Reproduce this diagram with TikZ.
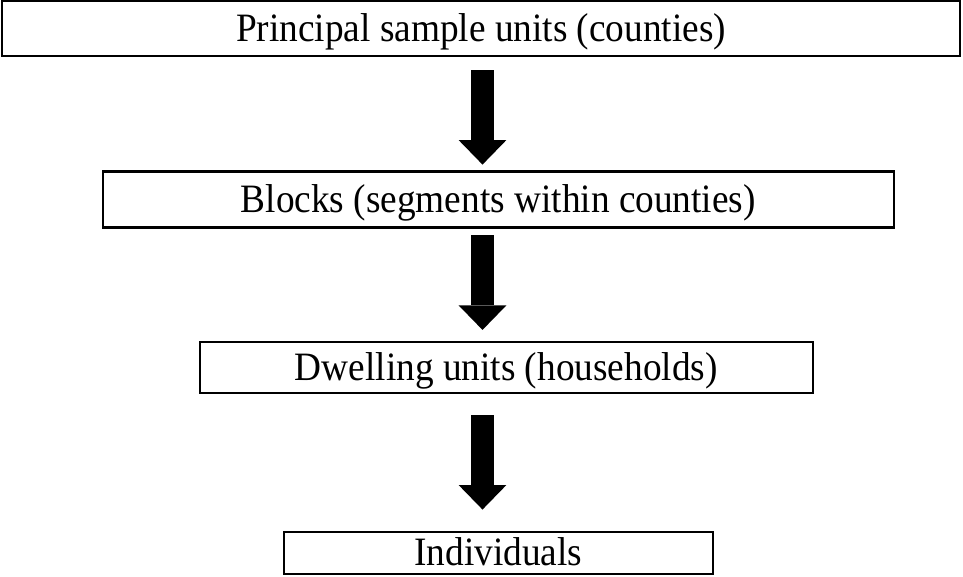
\documentclass[tikz,border=0pt]{standalone}
\usepackage{fontspec}
\setmainfont{Liberation Serif}
\usetikzlibrary{arrows.meta}
\newcommand{\talltext}[1]{\scalebox{1}[1.08]{#1}}
\begin{document}
\begin{tikzpicture}[x=1pt,y=-1pt,
  box/.style={draw=black,line width=2.2pt,fill=white,inner sep=0pt,
    font=\fontsize{37.3}{40}\selectfont,anchor=center,
    text height=31pt,text depth=6pt},
  blockarrow/.style={line width=23.3pt,
    -{Triangle[width=47.7pt,length=24.5pt,line width=0pt]}}]
\useasboundingbox (0,0) rectangle (963,576);
\node[box,minimum width=958pt,minimum height=55pt] (n1) at (481,28.5) {\talltext{Principal sample units (counties)}};
\node[box,minimum width=791pt,minimum height=56pt] (n2) at (498.3,199.5) {\talltext{Blocks (segments within counties)}};
\node[box,minimum width=612.7pt,minimum height=51.6pt] (n3) at (506.3,367.5) {\talltext{Dwelling units (households)}};
\node[box,minimum width=428.7pt,minimum height=42.3pt] (n4) at (498.3,552.8) {\talltext{Individuals}};
\coordinate (ax) at (482.5,0);
\draw[blockarrow,shorten <=13pt,shorten >=5.8pt] (n1.south -| ax) -- (n2.north -| ax);
\draw[blockarrow,shorten <=6.8pt,shorten >=10.7pt] (n2.south -| ax) -- (n3.north -| ax);
\draw[blockarrow,shorten <=20.7pt,shorten >=21pt] (n3.south -| ax) -- (n4.north -| ax);
\end{tikzpicture}
\end{document}
